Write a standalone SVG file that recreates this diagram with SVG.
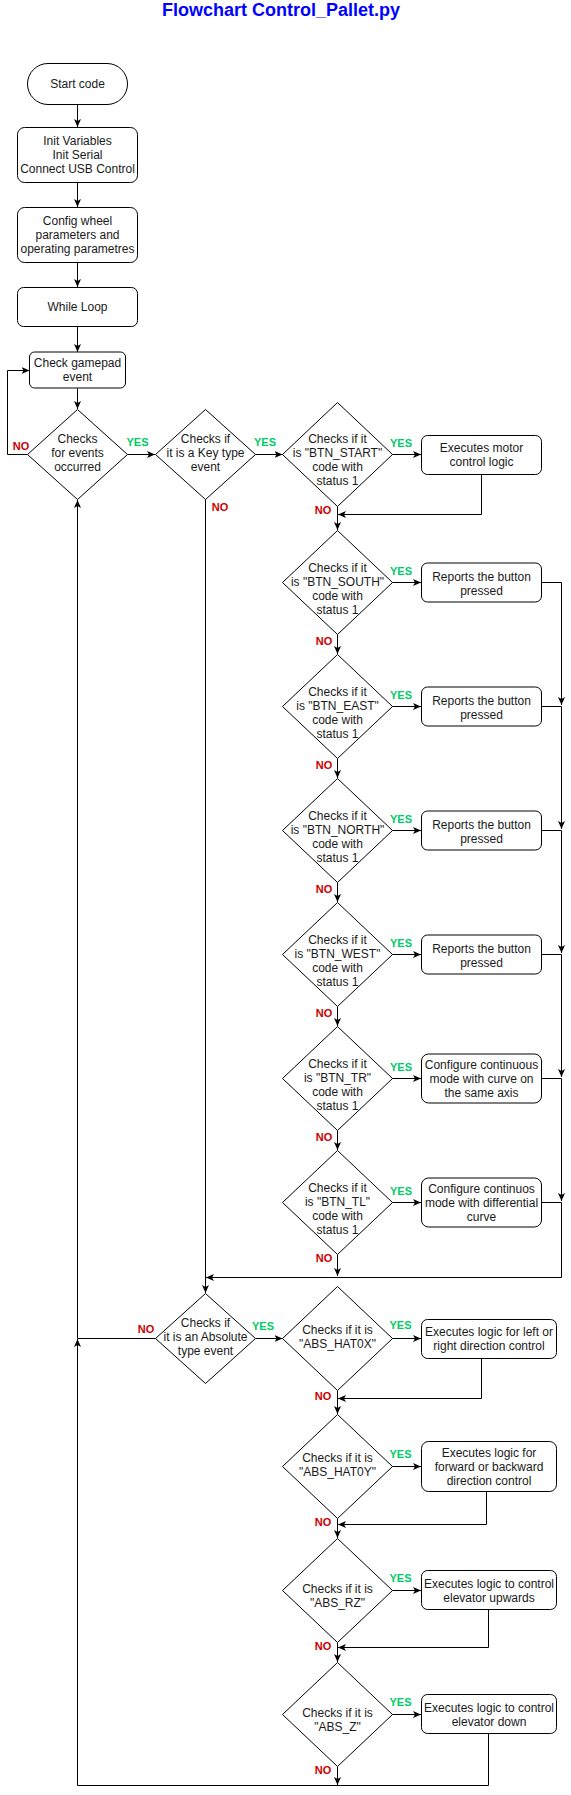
<svg xmlns="http://www.w3.org/2000/svg" width="571" height="1795" viewBox="0 0 571 1795">
<style>
.s{fill:#fff;stroke:#000;stroke-width:1}
.t{font-family:"Liberation Sans",Arial,sans-serif;font-size:12px;text-anchor:middle;fill:#1a1a1a}
.y{font-family:"Liberation Sans",Arial,sans-serif;font-size:11px;font-weight:bold;text-anchor:middle;fill:#00CC66}
.n{font-family:"Liberation Sans",Arial,sans-serif;font-size:11px;font-weight:bold;text-anchor:middle;fill:#CC0000}
.c{fill:none;stroke:#000;stroke-width:1}
.a{marker-end:url(#arr)}
</style>
<defs>
<marker id="arr" viewBox="0 0 8 8" markerWidth="8" markerHeight="8" refX="8" refY="4" orient="auto" markerUnits="userSpaceOnUse">
<path d="M0,0.5 L8,4 L0,7.5 L2,4 z" fill="#000"/>
</marker>
</defs>
<rect width="571" height="1795" fill="#fff"/>
<text x="281" y="16" font-family="Liberation Sans, Arial, sans-serif" font-size="18" font-weight="bold" fill="#0000FF" text-anchor="middle">Flowchart Control_Pallet.py</text>

<g id="connectors">
<path class="c a" d="M77.5,104.5 V127"/>
<path class="c a" d="M77.5,182.5 V207"/>
<path class="c a" d="M77.5,262.5 V287"/>
<path class="c a" d="M77.5,326.5 V352"/>
<path class="c a" d="M77.5,388.5 V409"/>
<path class="c a" d="M27.5,454.5 H7.5 V370.5 H29.5"/>
<path class="c a" d="M127.5,454.5 H155"/>
<path class="c a" d="M255.5,454.5 H282.5"/>
<path class="c a" d="M392.5,454.5 H421"/>
<path class="c a" d="M481.5,474.5 V514.5 H338"/>
<path class="c a" d="M337.5,506.5 V530"/>
<path class="c a" d="M392.5,582.5 H421"/>
<path class="c a" d="M337.5,634.5 V654"/>
<path class="c a" d="M541.5,582.5 H561.5 V705"/>
<path class="c a" d="M392.5,706.5 H421"/>
<path class="c a" d="M337.5,758.5 V778"/>
<path class="c a" d="M541.5,706.5 H561.5 V829"/>
<path class="c a" d="M392.5,830.5 H421"/>
<path class="c a" d="M337.5,882.5 V902"/>
<path class="c a" d="M541.5,830.5 H561.5 V953"/>
<path class="c a" d="M392.5,954.5 H421"/>
<path class="c a" d="M337.5,1006.5 V1026"/>
<path class="c a" d="M541.5,954.5 H561.5 V1077"/>
<path class="c a" d="M392.5,1078.5 H421"/>
<path class="c a" d="M337.5,1130.5 V1150"/>
<path class="c a" d="M541.5,1078.5 H561.5 V1201"/>
<path class="c a" d="M392.5,1202.5 H421"/>
<path class="c a" d="M337.5,1254.5 V1276"/>
<path class="c a" d="M541.5,1202.5 H561.5 V1277.5 H206"/>
<path class="c a" d="M205.5,499.5 V1293"/>
<path class="c a" d="M155.5,1338.5 H77.5 V500"/>
<path class="c a" d="M255.5,1338.5 H282.5"/>
<path class="c a" d="M392.5,1338.5 H421"/>
<path class="c a" d="M481.5,1358.5 V1398.5 H338"/>
<path class="c a" d="M337.5,1390.5 V1414"/>
<path class="c a" d="M392.5,1466.5 H421"/>
<path class="c a" d="M486.5,1491.5 V1524.5 H338"/>
<path class="c a" d="M337.5,1518.5 V1538"/>
<path class="c a" d="M392.5,1590.5 H421"/>
<path class="c a" d="M488.5,1609.5 V1647.5 H338"/>
<path class="c a" d="M337.5,1642.5 V1662"/>
<path class="c a" d="M392.5,1714.5 H421"/>
<path class="c a" d="M488.5,1733.5 V1785.5 H77.5 V1339"/>
<path class="c a" d="M337.5,1766.5 V1785"/>
<text class="n" x="21" y="450">NO</text>
<text class="y" x="137.5" y="446">YES</text>
<text class="y" x="265" y="446">YES</text>
<text class="n" x="220" y="511">NO</text>
<text class="y" x="401" y="447">YES</text>
<text class="n" x="323" y="514">NO</text>
<text class="y" x="401" y="574.5">YES</text>
<text class="n" x="324" y="644.5">NO</text>
<text class="y" x="401" y="698.5">YES</text>
<text class="n" x="324" y="768.5">NO</text>
<text class="y" x="401" y="822.5">YES</text>
<text class="n" x="324" y="892.5">NO</text>
<text class="y" x="401" y="946.5">YES</text>
<text class="n" x="324" y="1016.5">NO</text>
<text class="y" x="401" y="1070.5">YES</text>
<text class="n" x="324" y="1140.5">NO</text>
<text class="y" x="401" y="1194.5">YES</text>
<text class="n" x="324" y="1262">NO</text>
<text class="n" x="146" y="1333">NO</text>
<text class="y" x="263" y="1330">YES</text>
<text class="y" x="400.5" y="1329">YES</text>
<text class="n" x="323" y="1400">NO</text>
<text class="y" x="400.5" y="1458">YES</text>
<text class="n" x="323" y="1525.5">NO</text>
<text class="y" x="400.5" y="1582">YES</text>
<text class="n" x="323" y="1650">NO</text>
<text class="y" x="400.5" y="1706">YES</text>
<text class="n" x="323" y="1774">NO</text>
</g>

<g id="start"><rect class="s" x="27.5" y="63.5" width="100" height="41" rx="20.5"/><text class="t" x="77.5" y="88">Start code</text></g>
<g id="init"><rect class="s" x="17.5" y="127.5" width="120" height="55" rx="7"/><text class="t" x="77.5" y="145">Init Variables</text><text class="t" x="77.5" y="159">Init Serial</text><text class="t" x="77.5" y="173">Connect USB Control</text></g>
<g id="config"><rect class="s" x="17.5" y="207.5" width="120" height="55" rx="7"/><text class="t" x="77.5" y="225">Config wheel</text><text class="t" x="77.5" y="239">parameters and</text><text class="t" x="77.5" y="253">operating parametres</text></g>
<g id="while"><rect class="s" x="17.5" y="287.5" width="120" height="39" rx="6"/><text class="t" x="77.5" y="311">While Loop</text></g>
<g id="gamepad"><rect class="s" x="29.5" y="352" width="96" height="36" rx="5"/><text class="t" x="77.5" y="367">Check gamepad</text><text class="t" x="77.5" y="381">event</text></g>
<g id="d_events"><polygon class="s" points="77.5,409.5 127.5,454.5 77.5,499.5 27.5,454.5"/><text class="t" x="77.5" y="443">Checks</text><text class="t" x="77.5" y="457">for events</text><text class="t" x="77.5" y="471">occurred</text></g>
<g id="d_key"><polygon class="s" points="205.5,409.5 255.5,454.5 205.5,499.5 155.5,454.5"/><text class="t" x="205.5" y="443">Checks if</text><text class="t" x="205.5" y="457">it is a Key type</text><text class="t" x="205.5" y="471">event</text></g>
<g id="d_start"><polygon class="s" points="337.5,402.5 392.5,454.5 337.5,506.5 282.5,454.5"/><text class="t" x="337.5" y="443">Checks if it</text><text class="t" x="337.5" y="457">is "BTN_START"</text><text class="t" x="337.5" y="471">code with</text><text class="t" x="337.5" y="485">status 1</text></g>
<g id="b_motor"><rect class="s" x="421.5" y="435.5" width="120" height="39" rx="6"/><text class="t" x="481.5" y="452">Executes motor</text><text class="t" x="481.5" y="466">control logic</text></g>

<g id="d_south"><polygon class="s" points="337.5,530.5 392.5,582.5 337.5,634.5 282.5,582.5"/><text class="t" x="337.5" y="571.5">Checks if it</text><text class="t" x="337.5" y="585.5">is "BTN_SOUTH"</text><text class="t" x="337.5" y="599.5">code with</text><text class="t" x="337.5" y="613.5">status 1</text></g>
<g id="b_south"><rect class="s" x="421.5" y="563" width="120" height="39" rx="6"/><text class="t" x="481.5" y="580.5">Reports the button</text><text class="t" x="481.5" y="594.5">pressed</text></g>
<g id="d_east"><polygon class="s" points="337.5,654.5 392.5,706.5 337.5,758.5 282.5,706.5"/><text class="t" x="337.5" y="695.5">Checks if it</text><text class="t" x="337.5" y="709.5">is "BTN_EAST"</text><text class="t" x="337.5" y="723.5">code with</text><text class="t" x="337.5" y="737.5">status 1</text></g>
<g id="b_east"><rect class="s" x="421.5" y="687" width="120" height="39" rx="6"/><text class="t" x="481.5" y="704.5">Reports the button</text><text class="t" x="481.5" y="718.5">pressed</text></g>
<g id="d_north"><polygon class="s" points="337.5,778.5 392.5,830.5 337.5,882.5 282.5,830.5"/><text class="t" x="337.5" y="819.5">Checks if it</text><text class="t" x="337.5" y="833.5">is "BTN_NORTH"</text><text class="t" x="337.5" y="847.5">code with</text><text class="t" x="337.5" y="861.5">status 1</text></g>
<g id="b_north"><rect class="s" x="421.5" y="811" width="120" height="39" rx="6"/><text class="t" x="481.5" y="828.5">Reports the button</text><text class="t" x="481.5" y="842.5">pressed</text></g>
<g id="d_west"><polygon class="s" points="337.5,902.5 392.5,954.5 337.5,1006.5 282.5,954.5"/><text class="t" x="337.5" y="943.5">Checks if it</text><text class="t" x="337.5" y="957.5">is "BTN_WEST"</text><text class="t" x="337.5" y="971.5">code with</text><text class="t" x="337.5" y="985.5">status 1</text></g>
<g id="b_west"><rect class="s" x="421.5" y="935" width="120" height="39" rx="6"/><text class="t" x="481.5" y="952.5">Reports the button</text><text class="t" x="481.5" y="966.5">pressed</text></g>
<g id="d_tr"><polygon class="s" points="337.5,1026.5 392.5,1078.5 337.5,1130.5 282.5,1078.5"/><text class="t" x="337.5" y="1067.5">Checks if it</text><text class="t" x="337.5" y="1081.5">is "BTN_TR"</text><text class="t" x="337.5" y="1095.5">code with</text><text class="t" x="337.5" y="1109.5">status 1</text></g>
<g id="b_tr"><rect class="s" x="421.5" y="1054" width="120" height="49" rx="7"/><text class="t" x="481.5" y="1068.5">Configure continuous</text><text class="t" x="481.5" y="1083">mode with curve on</text><text class="t" x="481.5" y="1097">the same axis</text></g>
<g id="d_tl"><polygon class="s" points="337.5,1150.5 392.5,1202.5 337.5,1254.5 282.5,1202.5"/><text class="t" x="337.5" y="1191.5">Checks if it</text><text class="t" x="337.5" y="1205.5">is "BTN_TL"</text><text class="t" x="337.5" y="1219.5">code with</text><text class="t" x="337.5" y="1233.5">status 1</text></g>
<g id="b_tl"><rect class="s" x="421.5" y="1178" width="120" height="49" rx="7"/><text class="t" x="481.5" y="1193">Configure continuos</text><text class="t" x="481.5" y="1207">mode with differential</text><text class="t" x="481.5" y="1221">curve</text></g>

<g id="d_abs"><polygon class="s" points="205.5,1293.5 255.5,1338.5 205.5,1383.5 155.5,1338.5"/><text class="t" x="205.5" y="1326.5">Checks if</text><text class="t" x="205.5" y="1340.5">it is an Absolute</text><text class="t" x="205.5" y="1354.5">type event</text></g>
<g id="d_hat0x"><polygon class="s" points="337.5,1286.5 392.5,1338.5 337.5,1390.5 282.5,1338.5"/><text class="t" x="337.5" y="1334">Checks if it is</text><text class="t" x="337.5" y="1348">"ABS_HAT0X"</text></g>
<g id="b_hat0x"><rect class="s" x="421.5" y="1319.5" width="135" height="39" rx="6"/><text class="t" x="489" y="1335.5">Executes logic for left or</text><text class="t" x="489" y="1349.5">right direction control</text></g>
<g id="d_hat0y"><polygon class="s" points="337.5,1414.5 392.5,1466.5 337.5,1518.5 282.5,1466.5"/><text class="t" x="337.5" y="1462">Checks if it is</text><text class="t" x="337.5" y="1476">"ABS_HAT0Y"</text></g>
<g id="b_hat0y"><rect class="s" x="421.5" y="1441.5" width="135" height="50" rx="7"/><text class="t" x="489" y="1457">Executes logic for</text><text class="t" x="489" y="1471">forward or backward</text><text class="t" x="489" y="1485">direction control</text></g>
<g id="d_rz"><polygon class="s" points="337.5,1538.5 392.5,1590.5 337.5,1642.5 282.5,1590.5"/><text class="t" x="337.5" y="1593">Checks if it is</text><text class="t" x="337.5" y="1607">"ABS_RZ"</text></g>
<g id="b_rz"><rect class="s" x="421.5" y="1570.5" width="135" height="39" rx="6"/><text class="t" x="489" y="1588">Executes logic to control</text><text class="t" x="489" y="1602">elevator upwards</text></g>
<g id="d_z"><polygon class="s" points="337.5,1662.5 392.5,1714.5 337.5,1766.5 282.5,1714.5"/><text class="t" x="337.5" y="1717">Checks if it is</text><text class="t" x="337.5" y="1731">"ABS_Z"</text></g>
<g id="b_z"><rect class="s" x="421.5" y="1694.5" width="135" height="39" rx="6"/><text class="t" x="489" y="1712">Executes logic to control</text><text class="t" x="489" y="1726">elevator down</text></g>
</svg>
